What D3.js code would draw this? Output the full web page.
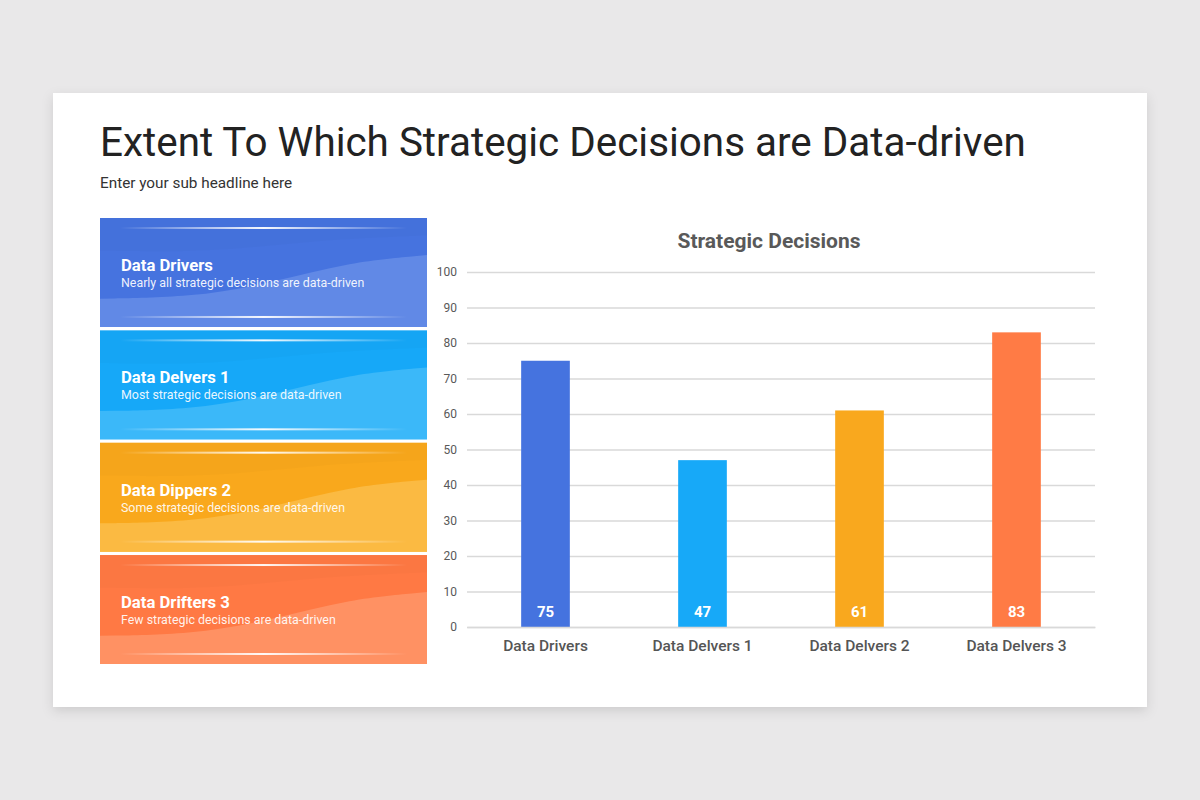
<!DOCTYPE html>
<html>
<head>
<meta charset="utf-8">
<script src="https://cdn.jsdelivr.net/npm/d3@7"></script>
<style>
  body { margin: 0; background: #e9e8e9; font-family: Roboto, "Noto Sans", sans-serif; }
</style>
</head>
<body>
<div id="slide"></div>
<script>
// chart data
var categories = ["Data Drivers", "Data Delvers 1", "Data Delvers 2", "Data Delvers 3"];
var values = [75, 47, 61, 83];
var barColors = ["#4573df", "#17a9f8", "#f9a81e", "#ff7b45"];
var yTicks = [0, 10, 20, 30, 40, 50, 60, 70, 80, 90, 100];

// side panels
var panelTitles = ["Data Drivers", "Data Delvers 1", "Data Dippers 2", "Data Drifters 3"];
var panelDescs = ["Nearly all strategic decisions are data-driven",
                  "Most strategic decisions are data-driven",
                  "Some strategic decisions are data-driven",
                  "Few strategic decisions are data-driven"];
var panelDark = ["#4673df", "#16a8f8", "#f9a81c", "#ff7944"];
var panelLight = ["#6189e6", "#3bb8f9", "#fbba42", "#ff9163"];

var w = 1200, h = 800;

var svg = d3.select("#slide")
            .append("svg")
            .attr("width", w)
            .attr("height", h);

var defs = svg.append("defs");

// card shadow
var shadow = defs.append("filter").attr("id", "shadow")
    .attr("x", "-5%").attr("y", "-5%").attr("width", "110%").attr("height", "115%");
shadow.append("feDropShadow")
    .attr("dx", 0).attr("dy", 4).attr("stdDeviation", 6)
    .attr("flood-color", "#000").attr("flood-opacity", 0.12);

// white shine line gradient
var shine = defs.append("linearGradient").attr("id", "shine");
shine.append("stop").attr("offset", "0%").attr("stop-color", "#fff").attr("stop-opacity", 0);
shine.append("stop").attr("offset", "50%").attr("stop-color", "#fff").attr("stop-opacity", 0.95);
shine.append("stop").attr("offset", "100%").attr("stop-color", "#fff").attr("stop-opacity", 0);

// card
svg.append("rect")
   .attr("x", 53).attr("y", 93)
   .attr("width", 1094).attr("height", 614)
   .attr("fill", "#fff")
   .attr("filter", "url(#shadow)");

// headline
svg.append("text")
   .attr("x", 100).attr("y", 156)
   .attr("font-size", 40.4)
   .attr("fill", "#222")
   .text("Extent To Which Strategic Decisions are Data-driven");

svg.append("text")
   .attr("x", 100).attr("y", 188)
   .attr("font-size", 15.3)
   .attr("fill", "#333")
   .text("Enter your sub headline here");

// panels
var panelX = 100, panelW = 327;
var panelY = d3.scaleBand()
               .domain(d3.range(panelTitles.length))
               .range([218, 664])
               .paddingInner(0.03);

var panels = svg.selectAll("g.panel")
                .data(panelTitles)
                .enter()
                .append("g")
                .attr("class", "panel")
                .attr("transform", function(d, i) {
                  return "translate(" + panelX + "," + panelY(i) + ")";
                });

var bh = panelY.bandwidth();

panels.append("rect")
      .attr("width", panelW)
      .attr("height", bh)
      .attr("fill", function(d, i) { return panelDark[i]; });

// lighter wave in the lower part
var wave = d3.line().curve(d3.curveBasis);
panels.append("path")
      .attr("fill", function(d, i) { return panelLight[i]; })
      .attr("d", function() {
        var pts = [[0, bh * 0.74], [90, bh * 0.73], [170, bh * 0.6], [250, bh * 0.4], [panelW, bh * 0.34]];
        return wave(pts) + "L" + panelW + "," + bh + "L0," + bh + "Z";
      });

// faint darker top band
panels.append("path")
      .attr("fill", "#000")
      .attr("fill-opacity", 0.015)
      .attr("d", function() {
        var pts = [[0, bh * 0.3], [110, bh * 0.32], [220, bh * 0.2], [panelW, bh * 0.16]];
        return wave(pts) + "L" + panelW + ",0L0,0Z";
      });

panels.append("rect")
      .attr("x", 20).attr("y", 9)
      .attr("width", panelW - 40).attr("height", 2)
      .attr("fill", "url(#shine)");

panels.append("rect")
      .attr("x", 20).attr("y", bh - 11)
      .attr("width", panelW - 40).attr("height", 2)
      .attr("fill", "url(#shine)");

panels.append("text")
      .attr("x", 21).attr("y", 53)
      .attr("font-size", 16.7)
      .attr("font-weight", "bold")
      .attr("fill", "#fff")
      .text(function(d) { return d; });

panels.append("text")
      .attr("x", 21).attr("y", 69)
      .attr("font-size", 12.4)
      .attr("fill", "#fff")
      .attr("fill-opacity", 0.92)
      .text(function(d, i) { return panelDescs[i]; });

// bar chart
var x = d3.scaleBand()
          .domain(categories)
          .range([467, 1095])
          .paddingInner(0.69)
          .paddingOuter(0.345);

var y = d3.scaleLinear()
          .domain([0, 100])
          .range([627, 272]);

svg.append("text")
   .attr("x", 769).attr("y", 248)
   .attr("text-anchor", "middle")
   .attr("font-size", 21)
   .attr("font-weight", "bold")
   .attr("fill", "#595959")
   .text("Strategic Decisions");

var yAxis = svg.append("g")
   .attr("transform", "translate(467,0)")
   .call(d3.axisLeft(y).tickValues(yTicks).tickSize(-628).tickPadding(10));
yAxis.select(".domain").remove();
yAxis.selectAll(".tick line").attr("stroke", "#d9d9d9").attr("stroke-width", 1.3);
yAxis.selectAll(".tick text")
     .attr("font-family", "Roboto, sans-serif")
     .attr("font-size", 12)
     .attr("fill", "#595959");

svg.selectAll("rect.bar")
   .data(values)
   .enter()
   .append("rect")
   .attr("class", "bar")
   .attr("x", function(d, i) { return x(categories[i]); })
   .attr("y", function(d) { return y(d); })
   .attr("width", x.bandwidth())
   .attr("height", function(d) { return y(0) - y(d); })
   .attr("fill", function(d, i) { return barColors[i]; });

svg.selectAll("text.val")
   .data(values)
   .enter()
   .append("text")
   .attr("class", "val")
   .attr("x", function(d, i) { return x(categories[i]) + x.bandwidth() / 2; })
   .attr("y", y(0) - 10)
   .attr("text-anchor", "middle")
   .attr("font-size", 15)
   .attr("font-weight", "bold")
   .attr("fill", "#fff")
   .text(function(d) { return d; });

var xAxis = svg.append("g")
   .attr("transform", "translate(0," + y(0) + ")")
   .call(d3.axisBottom(x).tickSize(0).tickPadding(13));
xAxis.select(".domain").attr("stroke", "#d9d9d9").attr("stroke-width", 1.3);
xAxis.selectAll(".tick text")
     .attr("font-family", "Roboto, sans-serif")
     .attr("font-size", 15.5)
     .attr("font-weight", 500)
     .attr("fill", "#555");
</script>
</body>
</html>
